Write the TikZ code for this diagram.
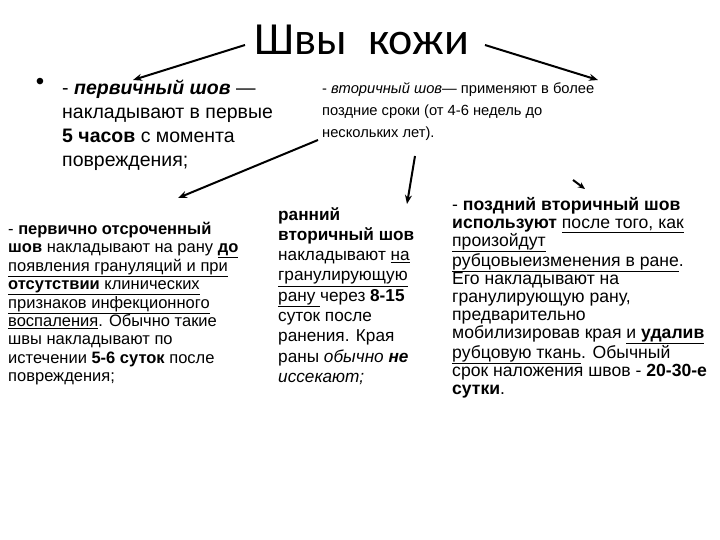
\documentclass[tikz,border=0pt]{standalone}
\usepackage{fontspec}
\usetikzlibrary{arrows.meta}
\setmainfont{Liberation Sans}
\newfontfamily\titlefont{Carlito}
\begin{document}
\begin{tikzpicture}[x=1pt,y=-1pt,
  txt/.style={anchor=north west,inner sep=0pt,align=left},
  arr/.style={-{Stealth[length=9pt,width=7pt]},line width=2pt}]
\useasboundingbox (0,0) rectangle (720,540);
\fill[white] (0,0) rectangle (720,540);
\node[anchor=center,inner sep=1pt] (title) at (362,40) {\titlefont\fontsize{46}{50}\selectfont Швы\ \ кожи};
\node[anchor=center] (bul) at (40,84) {\fontsize{24}{24}\selectfont •};
\node[txt,font=\fontsize{19.5}{24}\selectfont] (prim) at (62,80) {- \textbf{\textit{первичный шов}} —\\накладывают в первые\\\textbf{5 часов} с момента\\повреждения;};
\node[txt,font=\fontsize{14.7}{22}\selectfont] (vtor) at (322,82) {- \textit{вторичный шов}— применяют в более\\поздние сроки (от 4-6 недель до\\нескольких лет).};
\node[txt,font=\fontsize{16.5}{18.4}\selectfont] (otsr) at (8,222) {- \textbf{первично отсроченный}\\\textbf{шов} накладывают на рану \underline{\textbf{до}}\\\underline{появления грануляций и при}\\\underline{\textbf{отсутствии} клинических}\\\underline{признаков инфекционного}\\\underline{воспаления}. Обычно такие\\швы накладывают по\\истечении \textbf{5-6 суток} после\\повреждения;};
\node[txt,font=\fontsize{17.2}{20.3}\selectfont] (rann) at (278,207) {\textbf{ранний}\\\textbf{вторичный шов}\\накладывают \underline{на}\\\underline{гранулирующую}\\\underline{рану }через \textbf{8-15}\\суток после\\ранения. Края\\раны \textit{обычно} \textbf{\textit{не}}\\\textit{иссекают;}};
\node[txt,font=\fontsize{17.6}{18.1}\selectfont] (pozd) at (452,197) {- \textbf{поздний вторичный шов}\\\textbf{используют} \underline{после того, как}\\\underline{произойдут}\\\underline{рубцовыеизменения в ране}.\\Его накладывают на\\гранулирующую рану,\\предварительно\\мобилизировав края \underline{и \textbf{удалив}}\\\underline{рубцовую ткань}. Обычный\\срок наложения швов - \textbf{20-30-е}\\\textbf{сутки}.};
\coordinate (a1s) at (245,45); \coordinate (a1e) at (133,80);
\coordinate (a2s) at (485,45); \coordinate (a2e) at (598,80);
\coordinate (a3s) at (318,140); \coordinate (a3e) at (178,198);
\coordinate (a4s) at (415,156); \coordinate (a4e) at (407,204);
\coordinate (a5s) at (573,180); \coordinate (a5e) at (585,189);
\draw[arr] (a1s) -- (a1e);
\draw[arr] (a2s) -- (a2e);
\draw[arr] (a3s) -- (a3e);
\draw[arr] (a4s) -- (a4e);
\draw[arr,-{Stealth[length=7pt,width=6pt]}] (a5s) -- (a5e);
\end{tikzpicture}
\end{document}
